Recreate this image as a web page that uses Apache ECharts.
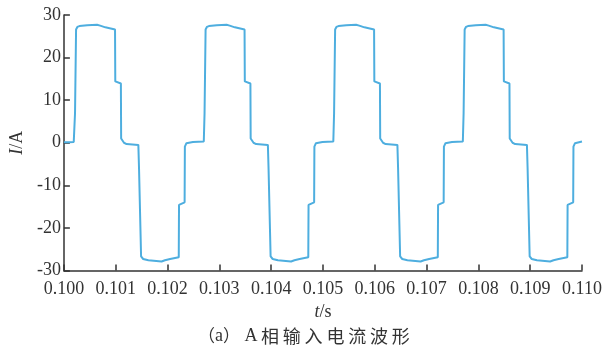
<!DOCTYPE html>
<html>
<head>
<meta charset="utf-8">
<script src="https://cdn.jsdelivr.net/npm/echarts@6/dist/echarts.min.js"></script>
<style>
  html, body { margin: 0; padding: 0; background: #fff; }
  #chart { width: 614px; height: 350px; }
</style>
</head>
<body>
<div id="chart"></div>
<script>
// Phase-A input current, time in seconds, current in amperes.
const leadIn = [
  [0.100000, 0.1], [0.100100, 0.1], [0.100190, 0.2]
];
const cycle1 = [
  [0.100200, 0.3], [0.100215, 7.0], [0.100235, 26.6], [0.100260, 27.2], [0.100300, 27.4],
  [0.100450, 27.6], [0.100640, 27.7], [0.100700, 27.5], [0.100800, 27.1], [0.100987, 26.6],
  [0.100992, 14.4], [0.101100, 13.9], [0.101105, 1.0], [0.101160, 0.0], [0.101210, -0.3],
  [0.101437, -0.5], [0.101450, -6.0], [0.101490, -26.7], [0.101530, -27.3], [0.101630, -27.6],
  [0.101885, -27.9], [0.101950, -27.6], [0.102050, -27.3], [0.102217, -26.9], [0.102222, -14.6],
  [0.102330, -14.0], [0.102335, -0.9], [0.102365, -0.1], [0.102490, 0.2]
];
const cycle2 = [
  [0.102700, 0.3], [0.102715, 7.0], [0.102735, 26.6], [0.102760, 27.2], [0.102800, 27.4],
  [0.102950, 27.6], [0.103140, 27.7], [0.103200, 27.5], [0.103300, 27.1], [0.103487, 26.6],
  [0.103492, 14.4], [0.103600, 13.9], [0.103605, 1.0], [0.103660, 0.0], [0.103710, -0.3],
  [0.103937, -0.5], [0.103950, -6.0], [0.103990, -26.7], [0.104030, -27.3], [0.104130, -27.6],
  [0.104385, -27.9], [0.104450, -27.6], [0.104550, -27.3], [0.104717, -26.9], [0.104722, -14.6],
  [0.104830, -14.0], [0.104835, -0.9], [0.104865, -0.1], [0.104990, 0.2]
];
const cycle3 = [
  [0.105200, 0.3], [0.105215, 7.0], [0.105235, 26.6], [0.105260, 27.2], [0.105300, 27.4],
  [0.105450, 27.6], [0.105640, 27.7], [0.105700, 27.5], [0.105800, 27.1], [0.105987, 26.6],
  [0.105992, 14.4], [0.106100, 13.9], [0.106105, 1.0], [0.106160, 0.0], [0.106210, -0.3],
  [0.106437, -0.5], [0.106450, -6.0], [0.106490, -26.7], [0.106530, -27.3], [0.106630, -27.6],
  [0.106885, -27.9], [0.106950, -27.6], [0.107050, -27.3], [0.107217, -26.9], [0.107222, -14.6],
  [0.107330, -14.0], [0.107335, -0.9], [0.107365, -0.1], [0.107490, 0.2]
];
const cycle4 = [
  [0.107700, 0.3], [0.107715, 7.0], [0.107735, 26.6], [0.107760, 27.2], [0.107800, 27.4],
  [0.107950, 27.6], [0.108140, 27.7], [0.108200, 27.5], [0.108300, 27.1], [0.108487, 26.6],
  [0.108492, 14.4], [0.108600, 13.9], [0.108605, 1.0], [0.108660, 0.0], [0.108710, -0.3],
  [0.108937, -0.5], [0.108950, -6.0], [0.108990, -26.7], [0.109030, -27.3], [0.109130, -27.6],
  [0.109385, -27.9], [0.109450, -27.6], [0.109550, -27.3], [0.109717, -26.9], [0.109722, -14.6],
  [0.109830, -14.0], [0.109835, -0.9], [0.109865, -0.1], [0.110000, 0.3]
];

const xRange = [0.100, 0.110];
const yRange = [-30, 30];
const captionMain = '相输入电流波形';

const serif = '"Liberation Serif", "Times New Roman", serif';
const cjk = '"Noto Sans CJK SC", sans-serif';
const axisColor = '#333333';

const chart = echarts.init(document.getElementById('chart'), null, { renderer: 'canvas' });

// Caption characters are spread out with wide tracking.
const captionChars = captionMain.split('').map((ch, k) => ({
  type: 'text',
  left: 261 + k * 21.8,
  top: 327,
  style: { text: ch, font: '18px ' + cjk, fill: '#333' }
}));

chart.setOption({
  animation: false,
  grid: { left: 62, right: 32, top: 15, bottom: 79.5, containLabel: false },
  xAxis: {
    type: 'value',
    min: xRange[0], max: xRange[1], interval: 0.001,
    name: '{i|t}/s',
    nameLocation: 'middle',
    nameGap: 31,
    nameTextStyle: {
      fontFamily: serif, fontSize: 18, color: '#333',
      rich: { i: { fontFamily: serif, fontSize: 18, fontStyle: 'italic', color: '#333' } }
    },
    axisLine: { show: true, onZero: false, lineStyle: { color: axisColor, width: 1.5 } },
    axisTick: { show: true, inside: true, length: 6, lineStyle: { color: axisColor, width: 1.5 } },
    axisLabel: {
      margin: 10, fontFamily: serif, fontSize: 18, color: '#333',
      formatter: v => v.toFixed(3)
    },
    splitLine: { show: false }
  },
  yAxis: {
    type: 'value',
    min: yRange[0], max: yRange[1], interval: 10,
    name: '{i|I}/A',
    nameLocation: 'middle',
    nameRotate: 90,
    nameGap: 31,
    nameTextStyle: {
      fontFamily: serif, fontSize: 18, color: '#333',
      rich: { i: { fontFamily: serif, fontSize: 18, fontStyle: 'italic', color: '#333' } }
    },
    axisLine: { show: true, onZero: false, lineStyle: { color: axisColor, width: 1.5 } },
    axisTick: { show: true, inside: true, length: 6, lineStyle: { color: axisColor, width: 1.5 } },
    axisLabel: { margin: 3, fontFamily: serif, fontSize: 18, color: '#333' },
    splitLine: { show: false }
  },
  series: [{
    type: 'line',
    data: [].concat(leadIn, cycle1, cycle2, cycle3, cycle4),
    showSymbol: false,
    smooth: false,
    lineStyle: { color: '#4eaedf', width: 2 },
    clip: true
  }],
  graphic: [
    {
      type: 'text',
      left: 198,
      top: 327,
      style: {
        text: '{p|（}a{p|）} A',
        font: '18px ' + serif,
        fill: '#333',
        rich: {
          p: { fontFamily: '"Noto Sans CJK SC", sans-serif', fontSize: 17, fill: '#333' }
        }
      }
    }
  ].concat(captionChars)
});
</script>
</body>
</html>
